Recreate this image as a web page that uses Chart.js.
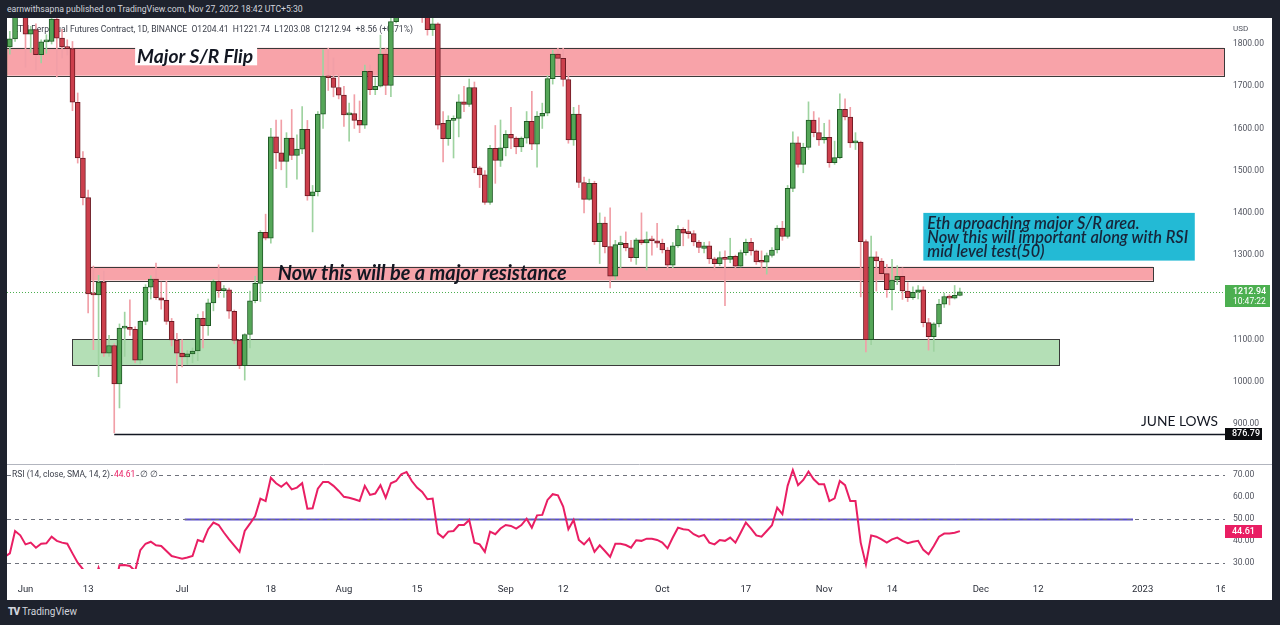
<!DOCTYPE html>
<html><head><meta charset="utf-8">
<script src="https://cdn.jsdelivr.net/npm/chart.js@4.4.0/dist/chart.umd.min.js"></script>
<style>
html,body{margin:0;padding:0;}
body{width:1280px;height:625px;background:#1e222d;position:relative;overflow:hidden;font-family:Roboto,"Noto Sans",sans-serif;}
#hdr{position:absolute;left:7px;top:3px;color:#d1d4dc;font-size:8.7px;line-height:12px;white-space:nowrap;}
#p1{position:absolute;left:7px;top:18px;width:1265px;height:446px;background:#fff;}
#p2{position:absolute;left:7px;top:464px;width:1265px;height:136px;background:#fff;}
#ftr{position:absolute;left:8px;top:606px;color:#d1d4dc;font-size:10px;line-height:12px;white-space:nowrap;}
#ftr b{font-weight:900;letter-spacing:-1px;margin-right:3px;}
canvas{display:block;}
</style></head>
<body>
<div id="hdr">earnwithsapna published on TradingView.com, Nov 27, 2022 18:42 UTC+5:30</div>
<div id="p1"><canvas id="c1" width="1265" height="446"></canvas></div>
<div id="p2"><canvas id="c2" width="1265" height="136"></canvas></div>
<div id="ftr"><b>TV</b>TradingView</div>
<script>
// ---------------- DATA ----------------
const startDate = '2022-05-28';
const opens = [
1724,1793,1812,1997,1942,1823,1834,1775,1805,1806,
1859,1814,1793,1789,1662,1530,1436,1208,1206,1236,
1068,1086,995,1127,1127,1124,1051,1143,1224,1243,
1199,1193,1143,1099,1068,1059,1066,1073,1150,1133,
1187,1238,1216,1218,1167,1098,1038,1112,1192,1233,
1354,1340,1580,1542,1522,1577,1536,1551,1598,1440,
1450,1634,1724,1720,1697,1679,1632,1635,1619,1608,
1735,1692,1700,1776,1702,1853,1880,1958,1983,1936,
1903,1876,1834,1848,1612,1576,1619,1624,1663,1657,
1697,1507,1490,1425,1553,1524,1554,1586,1577,1556,
1577,1617,1563,1629,1636,1718,1776,1766,1716,1573,
1634,1472,1432,1470,1332,1376,1320,1250,1325,1328,
1317,1294,1336,1329,1337,1334,1328,1312,1276,1322,
1361,1352,1351,1331,1316,1322,1291,1280,1294,1290,
1297,1274,1306,1330,1310,1284,1283,1299,1312,1364,
1344,1458,1566,1515,1555,1620,1590,1573,1579,1519,
1531,1645,1627,1566,1568,1332,1100,1296,1286,1256,
1218,1241,1250,1215,1199,1212,1218,1140,1107,1137,
1184,1202,1198,1204.41];
const highs = [
1812,1830,2015,2018,1970,1842,1848,1810,1822,1916,
1870,1835,1810,1806,1684,1545,1454,1274,1252,1262,
1110,1090,1137,1165,1194,1130,1145,1230,1251,1281,
1236,1238,1150,1115,1100,1074,1080,1160,1166,1196,
1242,1277,1228,1222,1170,1100,1114,1215,1250,1358,
1397,1600,1620,1620,1590,1645,1585,1652,1619,1465,
1640,1786,1790,1767,1727,1700,1660,1680,1665,1750,
1750,1720,1821,1790,1870,1942,1960,2020,2000,2015,
1910,1960,1880,1850,1640,1630,1630,1680,1700,1717,
1710,1510,1500,1560,1607,1620,1595,1650,1580,1580,
1640,1688,1640,1660,1725,1785,1790,1790,1732,1650,
1655,1485,1480,1475,1400,1390,1412,1335,1345,1355,
1335,1340,1400,1355,1345,1375,1338,1318,1330,1370,
1365,1383,1358,1335,1330,1332,1295,1308,1310,1340,
1300,1312,1338,1340,1312,1310,1305,1318,1370,1380,
1465,1592,1580,1565,1663,1640,1625,1612,1620,1570,
1682,1670,1650,1590,1570,1336,1345,1308,1292,1278,
1290,1275,1270,1235,1225,1228,1225,1150,1140,1195,
1210,1206,1228,1221.74];
const lows = [
1718,1776,1806,1915,1745,1780,1738,1755,1778,1800,
1722,1767,1774,1642,1518,1419,1163,1076,1012,1060,
1060,879,938,1060,1110,1045,1043,1135,1196,1195,
1172,1136,1085,997,1035,1041,1045,1050,1080,1110,
1168,1200,1200,1150,1090,1031,1004,1080,1187,1190,
1336,1328,1505,1502,1460,1526,1480,1540,1430,1355,
1440,1600,1690,1675,1670,1605,1570,1600,1590,1600,
1680,1680,1698,1680,1675,1850,1868,1946,1920,1866,
1851,1821,1820,1598,1521,1560,1530,1580,1640,1652,
1495,1460,1420,1420,1470,1510,1535,1552,1540,1545,
1565,1550,1508,1600,1630,1705,1735,1700,1565,1560,
1460,1400,1430,1325,1280,1305,1222,1242,1270,1310,
1285,1278,1325,1265,1300,1318,1305,1268,1270,1318,
1322,1340,1322,1306,1305,1280,1265,1275,1180,1282,
1268,1272,1300,1300,1278,1270,1255,1295,1305,1335,
1340,1450,1508,1495,1550,1580,1560,1565,1508,1515,
1528,1620,1555,1550,1201,1071,1088,1215,1245,1200,
1170,1230,1195,1190,1195,1196,1130,1075,1072,1130,
1176,1182,1196,1203.08];
const closes = [
1793,1812,1997,1942,1823,1834,1775,1805,1806,1859,
1814,1793,1789,1662,1530,1436,1208,1206,1236,1068,
1086,995,1127,1127,1124,1051,1143,1224,1243,1199,
1193,1143,1099,1068,1059,1066,1073,1150,1133,1187,
1238,1216,1218,1167,1098,1038,1112,1192,1233,1354,
1340,1580,1542,1522,1577,1536,1551,1598,1440,1450,
1634,1724,1720,1697,1679,1632,1635,1619,1608,1735,
1692,1700,1776,1702,1853,1880,1958,1983,1936,1903,
1876,1834,1848,1608,1576,1619,1624,1663,1657,1697,
1507,1490,1425,1553,1524,1554,1586,1577,1556,1577,
1617,1563,1629,1636,1718,1776,1766,1716,1573,1634,
1472,1432,1470,1332,1376,1320,1250,1325,1328,1317,
1294,1336,1329,1337,1334,1328,1312,1276,1322,1361,
1352,1351,1331,1318,1322,1291,1280,1294,1290,1297,
1274,1306,1330,1310,1284,1283,1299,1312,1364,1344,
1458,1566,1515,1555,1620,1590,1573,1579,1519,1531,
1645,1627,1566,1568,1332,1100,1296,1286,1256,1218,
1241,1250,1215,1199,1212,1218,1140,1107,1137,1184,
1202,1198,1205,1212.94];
const rsiValues = [
33,34.5,44.7,42.7,38.6,39.4,37.1,38.9,39.1,42.1,
40.2,39.4,38.9,34.5,30.3,27.3,19,20,28,21,
22,18,29.1,29.2,28.8,26.5,36,38.9,39.8,38.2,
37.9,35.6,33.3,32.7,32.1,32.6,33.3,40.6,39.8,45.5,
48.5,47.4,44,40.9,38,35.2,44.7,48,51.5,59.4,
58.3,68.9,66.4,64.8,66.7,63.6,64.4,66.4,54.8,55,
63.9,67,67,65.2,62.9,60.2,59.8,59.1,58.3,65.2,
61.1,61.7,65.5,59.8,66.4,67.4,70.5,71.5,67.4,64.4,
62.4,59.1,59.4,43.6,41.7,44.4,44.7,47.4,47.4,49.7,
39.4,38.6,35.2,44.4,43.2,45.8,47.4,47,45.8,47.4,
50.3,46.2,51.8,52,58.8,61.4,60.9,55.8,45.5,49.7,
40.6,38.6,41.2,35.2,38.2,35.6,32.9,38.9,38.9,38.3,
37.1,40.5,40.2,41.2,41.2,40.6,39.4,36.8,41.7,46.2,
45.5,45.2,43.2,42.1,42.9,39.4,38.6,40.6,40.2,41.7,
39.4,43.9,48.5,45.8,42.7,42.1,44.7,47.3,55.3,52.3,
65.2,72.4,65.5,67.9,71.7,68.2,65.9,65.9,58.3,59.5,
67.4,65.5,58.3,58.3,39.4,29.5,42.7,42.1,40.9,39.4,
40.9,41.7,40.2,39.1,39.8,40.2,36.1,34.1,37.9,42.1,
43.5,43.5,43.9,44.61];
const priceTicks = [900,1000,1100,1200,1300,1400,1500,1600,1700,1800];
const rsiTicks = [30,40,50,60,70];
const timeTickDates = ['2022-06-01','2022-06-13','2022-07-01','2022-07-18','2022-08-01','2022-08-15','2022-09-01','2022-09-12','2022-10-01','2022-10-17','2022-11-01','2022-11-14','2022-12-01','2022-12-12','2023-01-01','2023-01-16'];
const timeTickLabels = ['Jun','13','Jul','18','Aug','15','Sep','12','Oct','17','Nov','14','Dec','12','2023','16'];
const flipZone = [1725, 1791];
const resistZone = [1240, 1272.5];
const resistZoneDates = ['2022-06-13', '2023-01-03'];
const supportZone = [1038, 1100.5];
const supportZoneDates = ['2022-06-10', '2022-12-16'];
const juneLow = 876.79;
const juneLowDate = '2022-06-18';
const lastPrice = 1212.94;
const lastRsi = 44.61;
const rsiMidLineDates = ['2022-07-01T12:00:00Z', '2022-12-30T04:00:00Z'];
const noteBoxDates = ['2022-11-20', '2023-01-11'];
const noteBoxPrices = [1287, 1400];
const flipLabelAnchor = ['2022-06-22', 1772];
const resistLabelAnchor = ['2022-08-16', 1258];
const legendText = 'ETH Perpetual Futures Contract, 1D, BINANCE  O1204.41  H1221.74  L1203.08  C1212.94  +8.56 (+0.71%)';
const noteLines = ['Eth aproaching major S/R area.', 'Now this will important along with RSI', 'mid level test(50)'];

// ---------------- HELPERS ----------------
const DAY0 = Date.parse('2022-06-01T00:00:00Z');
const dayOf = s => (Date.parse(s.length === 10 ? s + 'T00:00:00Z' : s) - DAY0) / 864e5;
const firstDay = dayOf(startDate);
const xs = closes.map((_, i) => firstDay + i);
const timeTickDays = timeTickDates.map(dayOf);
const isUp = i => closes[i] >= opens[i];

const PX_PER_DAY = 5.22, PLOT_W = 1218;
const X_MIN = -18.5 / PX_PER_DAY, X_MAX = X_MIN + PLOT_W / PX_PER_DAY;
const PX_PER_USD = 380 / 900;
const P_MAX = 1800 + 26 / PX_PER_USD, P_MIN = P_MAX - 446 / PX_PER_USD;
const R_PX = 2.2;
const R_MAX = 70 + 10.3 / R_PX, R_MIN = R_MAX - 104 / R_PX;

function fitFont(ctx, text, style, family, width) {
  ctx.font = `${style} 20px ${family}`;
  const w = ctx.measureText(text).width;
  const size = 20 * width / w;
  ctx.font = `${style} ${size.toFixed(2)}px ${family}`;
  return size;
}
function noPad(s) { s.paddingTop = 0; s.paddingBottom = 0; s.paddingLeft = 0; s.paddingRight = 0; }

Chart.defaults.font.family = 'Roboto, "Noto Sans", sans-serif';

const UP_FILL = '#55a658', UP_EDGE = '#1f5a25', UP_WICK = '#9ed3a0';
const DN_FILL = '#cc3f4c', DN_EDGE = '#6d1b24', DN_WICK = '#f19fa7';

// ---------------- PRICE PANE ----------------
const pricePlugin = {
  id: 'pricePlugin',
  beforeDatasetsDraw(chart) {
    const {ctx, chartArea: a, scales: {x, y}} = chart;
    ctx.save();
    ctx.beginPath(); ctx.rect(a.left, a.top, a.right - a.left, a.bottom - a.top); ctx.clip();
    ctx.fillStyle = '#3b3f4a'; ctx.textBaseline = 'middle'; ctx.textAlign = 'left';
    fitFont(ctx, legendText, '', 'Roboto', 400);
    ctx.fillText(legendText, 6, 12);
    const zone = (d0, d1, lo, hi, fill) => {
      const x0 = d0 == null ? a.left - 2 : x.getPixelForValue(d0);
      const x1 = d1 == null ? a.right - 1 : x.getPixelForValue(d1);
      const y0 = y.getPixelForValue(hi), y1 = y.getPixelForValue(lo);
      ctx.fillStyle = fill; ctx.fillRect(x0, y0, x1 - x0, y1 - y0);
      ctx.strokeStyle = '#3a3a3a'; ctx.lineWidth = 1;
      ctx.strokeRect(Math.round(x0) + 0.5, Math.round(y0) + 0.5, Math.round(x1 - x0), Math.round(y1 - y0));
    };
    zone(null, null, flipZone[0], flipZone[1], '#f8a3a9');
    zone(dayOf(resistZoneDates[0]), dayOf(resistZoneDates[1]), resistZone[0], resistZone[1], '#f8a3a9');
    zone(dayOf(supportZoneDates[0]), dayOf(supportZoneDates[1]), supportZone[0], supportZone[1], '#b4dfb6');
    const yl = Math.round(y.getPixelForValue(lastPrice)) + 0.5;
    ctx.setLineDash([1, 2]); ctx.strokeStyle = '#4caf50'; ctx.lineWidth = 1;
    ctx.beginPath(); ctx.moveTo(a.left, yl); ctx.lineTo(a.right, yl); ctx.stroke(); ctx.setLineDash([]);
    const yj = Math.round(y.getPixelForValue(juneLow)) + 0.5;
    ctx.strokeStyle = '#131722'; ctx.lineWidth = 1.4;
    ctx.beginPath(); ctx.moveTo(x.getPixelForValue(dayOf(juneLowDate)), yj); ctx.lineTo(a.right, yj); ctx.stroke();
    ctx.restore();
  },
  afterDatasetsDraw(chart) {
    const {ctx, chartArea: a, scales: {x, y}} = chart;
    ctx.save();
    ctx.beginPath(); ctx.rect(a.left, a.top, a.right - a.left, a.bottom - a.top); ctx.clip();
    ctx.textBaseline = 'middle'; ctx.textAlign = 'left';
    const fl = x.getPixelForValue(dayOf(flipLabelAnchor[0])) + 2;
    const fy = y.getPixelForValue(flipLabelAnchor[1]);
    fitFont(ctx, 'Major S/R Flip', 'italic 700', 'Lato', 116);
    ctx.fillStyle = '#ffffff'; ctx.fillRect(fl - 2, fy - 9.5, 122, 19);
    ctx.fillStyle = '#131722'; ctx.fillText('Major S/R Flip', fl, fy + 1);
    ctx.textAlign = 'center';
    fitFont(ctx, 'Now this will be a major resistance', 'italic 700', 'Lato', 289);
    ctx.fillText('Now this will be a major resistance', x.getPixelForValue(dayOf(resistLabelAnchor[0])), y.getPixelForValue(resistLabelAnchor[1]) + 1);
    const bx0 = x.getPixelForValue(dayOf(noteBoxDates[0])), bx1 = x.getPixelForValue(dayOf(noteBoxDates[1]));
    const by0 = y.getPixelForValue(noteBoxPrices[1]), by1 = y.getPixelForValue(noteBoxPrices[0]);
    ctx.fillStyle = '#23bad5'; ctx.fillRect(bx0, by0, bx1 - bx0, by1 - by0);
    ctx.textAlign = 'left'; ctx.fillStyle = '#17253a';
    fitFont(ctx, noteLines[1], 'italic 600', 'Lato', 261);
    noteLines.forEach((t, i) => ctx.fillText(t, bx0 + 4, by0 + 10.5 + i * 14.4));
    ctx.textAlign = 'right'; ctx.fillStyle = '#131722';
    fitFont(ctx, 'JUNE LOWS', '400', 'Lato', 77);
    ctx.fillText('JUNE LOWS', a.right - 7, y.getPixelForValue(juneLow) - 12);
    ctx.restore();
  },
  afterDraw(chart) {
    const {ctx, chartArea: a, scales: {y}} = chart;
    ctx.save();
    ctx.textBaseline = 'middle'; ctx.textAlign = 'left';
    ctx.fillStyle = '#50535e'; ctx.font = '8px Roboto';
    ctx.fillText('USD', a.right + 8, 11);
    const yl = y.getPixelForValue(lastPrice);
    ctx.fillStyle = '#4caf50'; ctx.fillRect(a.right, Math.round(yl) - 7, 45, 22);
    ctx.fillStyle = '#ffffff'; ctx.font = '500 9px Roboto';
    ctx.fillText(lastPrice.toFixed(2), a.right + 8, yl);
    ctx.font = '8.5px Roboto'; ctx.fillText('10:47:22', a.right + 8, yl + 10);
    const yj = y.getPixelForValue(juneLow);
    ctx.fillStyle = '#0c0d10'; ctx.fillRect(a.right, Math.round(yj) - 6, 37, 12);
    ctx.fillStyle = '#ffffff'; ctx.font = '500 9px Roboto';
    ctx.fillText(juneLow.toFixed(2), a.right + 7, yj);
    ctx.restore();
  }
};

new Chart(document.getElementById('c1'), {
  type: 'bar',
  data: {
    datasets: [
      {
        label: 'wicks', order: 2, grouped: false, barThickness: 1, borderWidth: 0,
        data: xs.map((d, i) => ({x: d, y: [lows[i], highs[i]]})),
        backgroundColor: c => isUp(c.dataIndex) ? UP_WICK : DN_WICK
      },
      {
        label: 'bodies', order: 1, grouped: false, barThickness: 5, borderWidth: 1, minBarLength: 2, borderSkipped: false,
        data: xs.map((d, i) => ({x: d, y: [opens[i], closes[i]]})),
        backgroundColor: c => isUp(c.dataIndex) ? UP_FILL : DN_FILL,
        borderColor: c => isUp(c.dataIndex) ? UP_EDGE : DN_EDGE
      }
    ]
  },
  options: {
    responsive: false, animation: false, devicePixelRatio: 1,
    layout: {padding: 0},
    plugins: {legend: {display: false}, tooltip: {enabled: false}},
    scales: {
      x: {type: 'linear', min: X_MIN, max: X_MAX, bounds: 'data', offset: false, display: false},
      y: {
        position: 'right', min: P_MIN, max: P_MAX, bounds: 'data',
        grid: {display: false, drawTicks: false}, border: {display: false},
        afterFit(s) { s.width = 47; noPad(s); },
        afterBuildTicks(s) { s.ticks = priceTicks.map(v => ({value: v})); },
        ticks: {padding: 8, color: '#50535e', font: {size: 8.5}, callback: v => Number(v).toFixed(2)}
      }
    }
  },
  plugins: [pricePlugin]
});

// ---------------- RSI PANE ----------------
const rsiPlugin = {
  id: 'rsiPlugin',
  beforeDatasetsDraw(chart) {
    const {ctx, chartArea: a, scales: {x, y}} = chart;
    ctx.save();
    ctx.strokeStyle = '#b2b5be'; ctx.lineWidth = 1;
    ctx.beginPath(); ctx.moveTo(0, 0.5); ctx.lineTo(chart.width, 0.5); ctx.stroke();
    const m = Math.round(y.getPixelForValue(50)) + 0.5;
    ctx.strokeStyle = 'rgba(74,60,194,0.9)'; ctx.lineWidth = 2;
    ctx.beginPath(); ctx.moveTo(x.getPixelForValue(dayOf(rsiMidLineDates[0])), m); ctx.lineTo(x.getPixelForValue(dayOf(rsiMidLineDates[1])), m); ctx.stroke();
    ctx.strokeStyle = '#6f727c'; ctx.lineWidth = 1; ctx.setLineDash([4, 4]);
    [70, 50, 30].forEach(v => {
      const yy = Math.round(y.getPixelForValue(v)) + 0.5;
      ctx.beginPath(); ctx.moveTo(a.left, yy); ctx.lineTo(a.right, yy); ctx.stroke();
    });
    ctx.restore();
  },
  afterDraw(chart) {
    const {ctx, chartArea: a, scales: {y}} = chart;
    ctx.save();
    ctx.fillStyle = '#ffffff'; ctx.fillRect(a.right, a.bottom, chart.width - a.right, chart.height - a.bottom);
    ctx.textBaseline = 'middle'; ctx.textAlign = 'left';
    ctx.font = '8.5px Roboto';
    const ly = y.getPixelForValue(70);
    let t = 'RSI (14, close, SMA, 14, 2)';
    ctx.fillStyle = '#ffffff'; ctx.fillRect(4, ly - 5, ctx.measureText(t).width + 2, 10);
    ctx.fillStyle = '#3b3f4a'; ctx.fillText(t, 5, ly);
    let xx = 5 + ctx.measureText(t).width + 4;
    ctx.fillStyle = '#ffffff'; ctx.fillRect(xx - 1, ly - 5, ctx.measureText('44.61').width + 2, 10);
    ctx.fillStyle = '#e91e63'; ctx.fillText(lastRsi.toFixed(2), xx, ly);
    xx += ctx.measureText('44.61').width + 5;
    ctx.fillStyle = '#ffffff'; ctx.fillRect(xx - 1, ly - 5, 16, 10);
    ctx.fillStyle = '#3b3f4a'; ctx.fillText('∅ ∅', xx, ly);
    const ry = y.getPixelForValue(lastRsi);
    ctx.fillStyle = '#e91e63'; ctx.fillRect(a.right, Math.round(ry) - 6, 37, 13);
    ctx.fillStyle = '#ffffff'; ctx.font = '500 9px Roboto';
    ctx.fillText(lastRsi.toFixed(2), a.right + 7, ry + 0.5);
    ctx.restore();
  }
};

new Chart(document.getElementById('c2'), {
  type: 'line',
  data: {
    datasets: [{
      label: 'RSI', data: xs.map((d, i) => ({x: d, y: rsiValues[i]})),
      borderColor: '#e91e63', borderWidth: 2, pointRadius: 0, tension: 0, fill: false
    }]
  },
  options: {
    responsive: false, animation: false, devicePixelRatio: 1,
    layout: {padding: {top: 1}},
    plugins: {legend: {display: false}, tooltip: {enabled: false}},
    scales: {
      x: {
        type: 'linear', min: X_MIN, max: X_MAX, bounds: 'data', offset: false, position: 'bottom',
        grid: {display: false, drawTicks: false}, border: {display: false},
        afterFit(s) { s.height = 31; noPad(s); },
        afterBuildTicks(s) { s.ticks = timeTickDays.map(v => ({value: v})); },
        ticks: {autoSkip: false, maxRotation: 0, minRotation: 0, padding: 15, color: '#2a2e39', font: {size: 9.5},
                callback: (v, i) => timeTickLabels[i]}
      },
      y: {
        position: 'right', min: R_MIN, max: R_MAX, bounds: 'data',
        grid: {display: false, drawTicks: false}, border: {display: false},
        afterFit(s) { s.width = 47; noPad(s); },
        afterBuildTicks(s) { s.ticks = rsiTicks.map(v => ({value: v})); },
        ticks: {padding: 8, color: '#50535e', font: {size: 8.5}, callback: v => Number(v).toFixed(2)}
      }
    }
  },
  plugins: [rsiPlugin]
});
</script>
</body></html>
